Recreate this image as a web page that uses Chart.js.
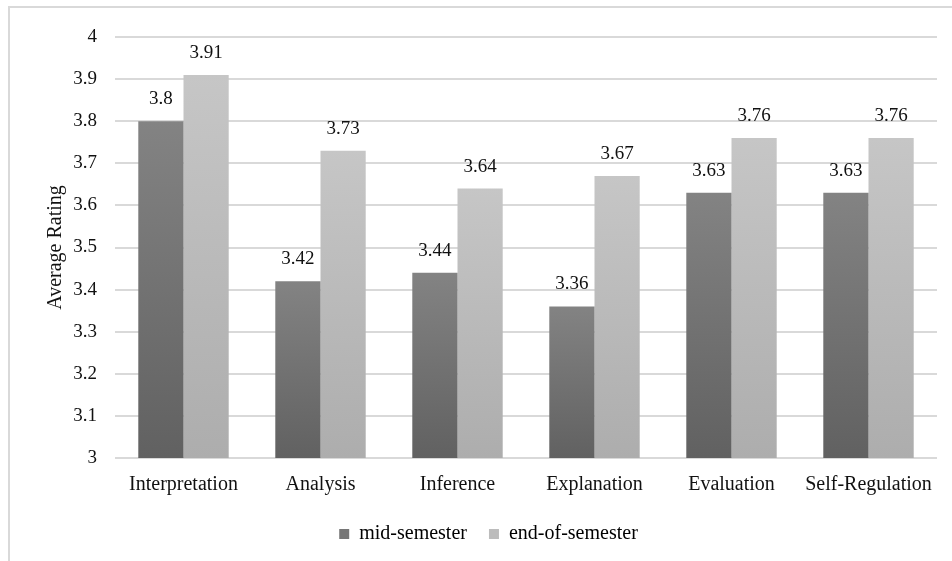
<!DOCTYPE html>
<html>
<head>
<meta charset="utf-8">
<script src="https://cdn.jsdelivr.net/npm/chart.js@4/dist/chart.umd.min.js"></script>
<style>
  html, body { margin: 0; padding: 0; background: #fff; }
  #wrap { width: 952px; height: 561px; position: relative; }
</style>
</head>
<body>
<div id="wrap"><canvas id="c" width="952" height="561"></canvas></div>
<script>
const categories = ['Interpretation', 'Analysis', 'Inference', 'Explanation', 'Evaluation', 'Self-Regulation'];
const midSemester = [3.8, 3.42, 3.44, 3.36, 3.63, 3.63];
const endSemester = [3.91, 3.73, 3.64, 3.67, 3.76, 3.76];
const yTicks = [3, 3.1, 3.2, 3.3, 3.4, 3.5, 3.6, 3.7, 3.8, 3.9, 4];

const SERIF = '"Liberation Serif", "Times New Roman", serif';

// Vertical gradient spanning each bar from its top down to the axis base.
function barGradient(ctx, topColor, bottomColor) {
  const chart = ctx.chart;
  const y = chart.scales && chart.scales.y;
  if (!y || ctx.type !== 'data') return bottomColor;
  const top = y.getPixelForValue(ctx.raw);
  const base = y.getPixelForValue(y.min);
  if (!isFinite(top) || !isFinite(base) || base - top < 1) return bottomColor;
  const g = chart.ctx.createLinearGradient(0, top, 0, base);
  g.addColorStop(0, topColor);
  g.addColorStop(1, bottomColor);
  return g;
}

// Light frame around the figure.
const framePlugin = {
  id: 'frame',
  beforeDraw(chart) {
    const c = chart.ctx;
    c.save();
    c.strokeStyle = '#d9d9d9';
    c.lineWidth = 2;
    c.strokeRect(9, 7, 960, 600);
    c.restore();
  }
};

// Value printed above each bar.
const valueLabels = {
  id: 'valueLabels',
  afterDatasetsDraw(chart) {
    const c = chart.ctx;
    c.save();
    c.font = '19px ' + SERIF;
    c.fillStyle = '#111';
    c.textAlign = 'center';
    c.textBaseline = 'middle';
    chart.data.datasets.forEach((ds, di) => {
      const meta = chart.getDatasetMeta(di);
      meta.data.forEach((bar, i) => {
        c.fillText(String(ds.data[i]), bar.x, bar.y - 22);
      });
    });
    c.restore();
  }
};

new Chart(document.getElementById('c'), {
  type: 'bar',
  data: {
    labels: categories,
    datasets: [
      {
        label: 'mid-semester',
        data: midSemester,
        backgroundColor: ctx => barGradient(ctx, '#838383', '#616161'),
        legendColor: '#767676'
      },
      {
        label: 'end-of-semester',
        data: endSemester,
        backgroundColor: ctx => barGradient(ctx, '#c6c6c6', '#adadad'),
        legendColor: '#bcbcbc'
      }
    ]
  },
  options: {
    responsive: false,
    animation: false,
    devicePixelRatio: 1,
    layout: { padding: { left: 40, right: 15, top: 37, bottom: 7 } },
    datasets: { bar: { categoryPercentage: 0.66, barPercentage: 1 } },
    plugins: {
      tooltip: { enabled: false },
      legend: {
        position: 'bottom',
        labels: {
          font: { family: SERIF, size: 20 },
          color: '#111',
          boxWidth: 10,
          boxHeight: 10,
          padding: 22,
          generateLabels(chart) {
            return chart.data.datasets.map((ds, i) => ({
              text: ds.label,
              fillStyle: ds.legendColor,
              strokeStyle: ds.legendColor,
              lineWidth: 0,
              datasetIndex: i,
              hidden: false
            }));
          }
        }
      }
    },
    scales: {
      x: {
        grid: { display: false, drawTicks: false },
        border: { display: false },
        afterFit(scale) { scale.height = 44; },
        ticks: {
          font: { family: SERIF, size: 20 },
          color: '#111',
          padding: 15,
          maxRotation: 0,
          autoSkip: false
        }
      },
      y: {
        min: 3,
        max: 4,
        afterBuildTicks(scale) {
          scale.ticks = yTicks.map(v => ({ value: v }));
        },
        afterFit(scale) { scale.width = 75; },
        grid: { color: '#d9d9d9', lineWidth: 2, drawTicks: false },
        border: { display: false },
        ticks: {
          font: { family: SERIF, size: 19 },
          color: '#111',
          padding: 18,
          callback: v => String(Number(v.toFixed(1)))
        },
        title: {
          display: true,
          text: 'Average Rating',
          font: { family: SERIF, size: 20 },
          color: '#111',
          padding: { top: 4, bottom: 4 }
        }
      }
    }
  },
  plugins: [framePlugin, valueLabels]
});
</script>
</body>
</html>
